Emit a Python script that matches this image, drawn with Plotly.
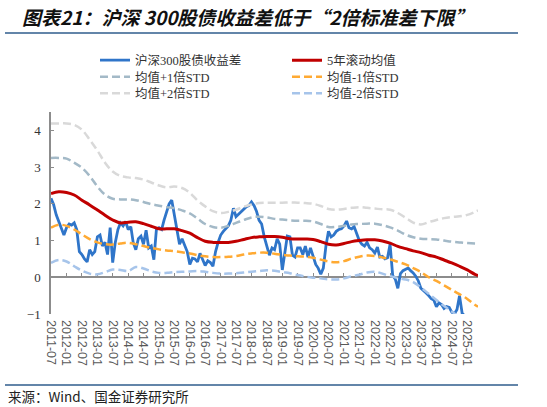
import pandas as pd
import plotly.graph_objects as go

# 沪深300股债收益差, monthly from 2011-07
spread = [
    2.15, 1.98, 1.70, 1.50, 1.30, 1.15, 1.35, 1.45, 1.42, 1.48, 1.30, 0.70,
    0.62, 0.50, 0.42, 0.75, 0.62, 0.70, 1.10, 1.15, 0.85, 0.95, 0.62, 1.35,
    0.40, 0.95, 1.30, 1.48, 1.40, 1.52, 1.30, 1.38, 0.95, 0.75, 1.05, 1.12,
    0.90, 1.28, 0.80, 0.85, 0.48, 1.30, 1.35, 1.30, 1.55, 1.80, 2.00, 2.10,
    1.70, 1.25, 0.90, 1.05, 0.85, 0.70, 0.35, 0.52, 0.50, 0.42, 0.65, 0.48,
    0.32, 0.45, 0.40, 0.30, 0.70, 0.95, 1.15, 1.25, 1.32, 1.40, 1.55, 1.88,
    1.65, 1.72, 1.80, 1.85, 1.92, 1.95, 2.05, 1.95, 1.80, 1.55, 1.45, 1.10,
    0.85, 0.60, 0.80, 0.75, 1.05, 0.90, 0.20, 0.70, 1.12, 1.10, 0.60, 0.55,
    0.80, 0.80, 0.62, 0.85, 0.55, 0.80, 0.60, 0.35, 0.25, 0.08, 0.25, 0.85,
    1.25, 1.10, 1.15, 1.25, 1.30, 1.32, 1.40, 1.53, 1.35, 1.32, 1.38, 1.18,
    1.00, 0.90, 0.85, 0.95, 0.80, 0.75, 0.66, 0.82, 0.55, 0.57, 0.50, 0.53,
    0.90, 0.05, -0.05, -0.30, 0.10, 0.18, 0.22, 0.25, 0.18, 0.12, 0.03, -0.10,
    -0.30, -0.38, -0.43, -0.50, -0.58, -0.62, -0.80, -0.70, -0.74, -0.85, -0.80, -0.82,
    -0.95, -1.00, -0.88, -0.50, -0.98, -1.05, -1.10,
]

# quarterly from 2011-07, last point is the end of the data
mean5y = [
    2.28, 2.33, 2.31, 2.24, 2.10, 1.97, 1.83, 1.69,
    1.56, 1.48, 1.50, 1.51, 1.46, 1.39, 1.32, 1.32,
    1.32, 1.27, 1.20, 1.08, 0.98, 0.95, 0.95, 0.95,
    0.98, 1.03, 1.08, 1.10, 1.11, 1.11, 1.09, 1.05,
    1.04, 1.04, 1.03, 0.97, 0.90, 0.88, 0.92, 0.97,
    1.00, 1.02, 1.02, 0.99, 0.93, 0.84, 0.78, 0.72,
    0.67, 0.60, 0.55, 0.47, 0.39, 0.30, 0.20, 0.08,
    0.05,
]
up1 = [
    3.25, 3.25, 3.23, 3.12, 2.98, 2.76, 2.47, 2.25,
    2.14, 2.12, 2.12, 2.10, 2.05, 1.99, 1.95, 1.91,
    1.88, 1.82, 1.74, 1.60, 1.45, 1.37, 1.35, 1.40,
    1.48, 1.56, 1.63, 1.65, 1.63, 1.59, 1.57, 1.55,
    1.54, 1.54, 1.52, 1.45, 1.37, 1.37, 1.40, 1.44,
    1.45, 1.46, 1.46, 1.42, 1.36, 1.27, 1.16, 1.09,
    1.05, 1.04, 1.03, 1.00, 0.97, 0.95, 0.93, 0.92,
    0.92,
]
dn1 = [
    1.35, 1.43, 1.40, 1.30, 1.17, 1.04, 0.95, 0.90,
    0.89, 0.92, 0.94, 0.90, 0.85, 0.80, 0.76, 0.73,
    0.71, 0.68, 0.65, 0.60, 0.57, 0.55, 0.55, 0.56,
    0.58, 0.62, 0.65, 0.67, 0.67, 0.64, 0.61, 0.59,
    0.57, 0.56, 0.53, 0.48, 0.43, 0.41, 0.44, 0.51,
    0.56, 0.59, 0.58, 0.54, 0.49, 0.42, 0.35, 0.25,
    0.14, 0.00, -0.10, -0.22, -0.34, -0.46, -0.59, -0.75,
    -0.80,
]
up2 = [
    4.19, 4.19, 4.19, 4.15, 4.02, 3.75, 3.45, 3.12,
    2.88, 2.76, 2.72, 2.70, 2.66, 2.58, 2.50, 2.45,
    2.47, 2.43, 2.30, 2.09, 1.93, 1.80, 1.75, 1.78,
    1.84, 1.92, 1.98, 2.02, 2.03, 2.03, 2.03, 2.04,
    2.03, 2.02, 2.00, 1.94, 1.86, 1.84, 1.86, 1.89,
    1.91, 1.89, 1.87, 1.85, 1.84, 1.75, 1.62, 1.49,
    1.44, 1.50, 1.56, 1.61, 1.64, 1.66, 1.70, 1.78,
    1.82,
]
dn2 = [
    0.39, 0.47, 0.43, 0.30, 0.18, 0.10, 0.08, 0.14,
    0.21, 0.20, 0.17, 0.28, 0.24, 0.16, 0.12, 0.12,
    0.14, 0.15, 0.16, 0.17, 0.15, 0.12, 0.10, 0.10,
    0.11, 0.13, 0.15, 0.17, 0.19, 0.18, 0.14, 0.11,
    0.06, 0.02, -0.01, -0.03, -0.06, -0.06, -0.03, 0.03,
    0.07, 0.13, 0.15, 0.10, 0.03, -0.02, -0.06, -0.13,
    -0.28, -0.45, -0.62, -0.78, -0.93, -1.10, -1.30, -1.55,
    -1.60,
]

start = "2011-07-01"
end = "2025-05-08"
months = pd.date_range(start, periods=len(spread), freq="MS")
quarters = list(pd.date_range(start, periods=len(mean5y) - 1, freq="3MS")) + [pd.Timestamp(end)]
tickdates = pd.date_range(start, "2025-01-01", freq="6MS")

W, H = 547, 407
L, R, T, B = 51, 69, 112, 93
pw, ph = W - L - R, H - T - B

def px_x(p):
    return (p - L) / pw

def px_y(p):
    return (H - B - p) / ph

dashed = "8px,4px"
fig = go.Figure()
fig.add_trace(go.Scatter(x=months, y=spread, name="沪深300股债收益差", mode="lines",
                         legend="legend", line=dict(color="#2f75c9", width=2.8)))
fig.add_trace(go.Scatter(x=quarters, y=mean5y, name="5年滚动均值", mode="lines",
                         legend="legend", line=dict(color="#c00000", width=3, shape="spline")))
bands = [
    ("均值+1倍STD", up1, "#a3b9c7", "legend2"),
    ("均值-1倍STD", dn1, "#ffaa33", "legend2"),
    ("均值+2倍STD", up2, "#d9d9d9", "legend3"),
    ("均值-2倍STD", dn2, "#a6c4ea", "legend3"),
]
for i, (nm, vals, col, lg) in enumerate(bands):
    fig.add_trace(go.Scatter(x=quarters, y=vals, name=nm, mode="lines", legend=lg,
                             xaxis="x2" if i == 3 else "x",
                             line=dict(color=col, width=2.5, dash=dashed, shape="spline")))

legend_font = dict(size=12.5, color="#333333", family="Liberation Serif, Noto Sans CJK SC")

def legend_row(top):
    return dict(orientation="h", x=px_x(95), y=px_y(top), xanchor="left", yanchor="top",
                entrywidth=147, font=legend_font, bgcolor="rgba(0,0,0,0)")

fig.update_layout(
    width=W, height=H,
    margin=dict(l=L, r=R, t=T, b=B),
    paper_bgcolor="white", plot_bgcolor="white",
    font=dict(family="Liberation Serif, Noto Sans CJK SC", size=12, color="#333333"),
    showlegend=True,
    legend=legend_row(45.5),
    legend2=legend_row(62),
    legend3=legend_row(78.5),
    xaxis=dict(type="date", range=[start, end], showgrid=False, zeroline=False,
               showline=False, ticks="", tickvals=tickdates, tickformat="%Y-%m",
               tickangle=90, ticklabelstandoff=5,
               tickfont=dict(family="Liberation Sans", size=12.5, color="#595959")),
    xaxis2=dict(type="date", range=[start, end], overlaying="x", anchor="free",
                position=(0 - (-1)) / 5.5, side="bottom", showgrid=False, zeroline=False,
                showline=True, linecolor="#8c8c8c", linewidth=1.5, ticks="inside",
                ticklen=4, tickcolor="#8c8c8c", tickvals=tickdates, showticklabels=False,
                layer="below traces"),
    yaxis=dict(range=[-1, 4.5], dtick=1, tick0=0, showgrid=False, zeroline=False,
               showline=True, linecolor="#8c8c8c", linewidth=1.5, ticks="inside",
               ticklen=3, tickcolor="#8c8c8c", ticklabelstandoff=6,
               tickfont=dict(family="Liberation Serif", size=13, color="#333333")),
)

fig.add_annotation(text="<b><i>图表21：沪深 300股债收益差低于“2倍标准差下限”</i></b>",
                   xref="paper", yref="paper", x=px_x(20), y=px_y(16),
                   xanchor="left", yanchor="middle", showarrow=False,
                   font=dict(family="Noto Sans CJK SC", size=19, color="#111111"))
fig.add_annotation(text="来源：Wind、国金证券研究所",
                   xref="paper", yref="paper", x=px_x(6), y=px_y(396),
                   xanchor="left", yanchor="middle", showarrow=False,
                   font=dict(family="Noto Sans CJK SC", size=13.5, color="#222222"))
for yy in (33, 385):
    fig.add_shape(type="line", xref="paper", yref="paper",
                  x0=px_x(5), x1=px_x(518), y0=px_y(yy), y1=px_y(yy),
                  line=dict(color="#2f5d8c", width=1.5))

fig.write_html("out.html", config={"displayModeBar": False},
               post_script="document.body.style.margin='0';")
